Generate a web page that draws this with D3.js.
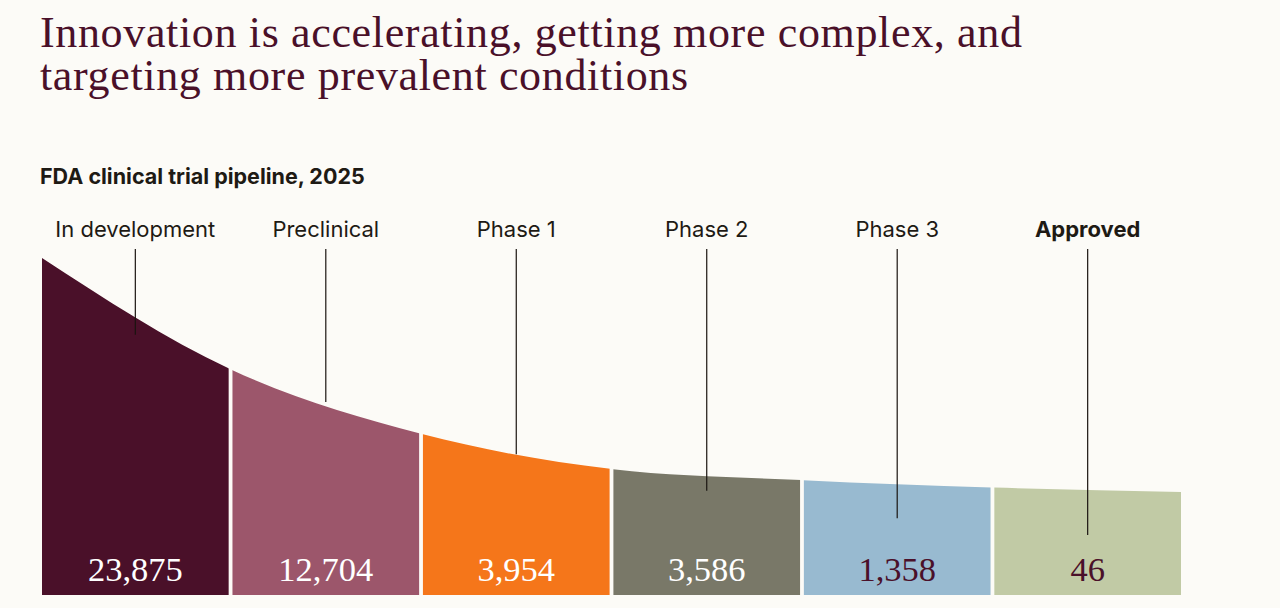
<!DOCTYPE html>
<html>
<head>
<meta charset="utf-8">
<script src="https://cdn.jsdelivr.net/npm/d3@7"></script>
<style>
  body { margin: 0; background: #fcfbf7; }
  svg { display: block; }
</style>
</head>
<body>
<svg width="1280" height="608"></svg>
<script>
// stages of the pipeline
var stages = ["In development", "Preclinical", "Phase 1", "Phase 2", "Phase 3", "Approved"];
var counts = [23875, 12704, 3954, 3586, 1358, 46];
var colors = ["#4a1029", "#9c566b", "#f5761a", "#797868", "#98bad0", "#c1caa5"];
var valueColors = ["#ffffff", "#ffffff", "#ffffff", "#ffffff", "#4a1029", "#4a1029"];
// relative height of the funnel at each stage boundary (0-100)
var funnelHeight = [100, 66.8, 47.8, 37.4, 34.1, 31.9, 30.6];
// where the leader lines stop, same units
var leaderEnds = [77.2, 57.3, 41.8, 30.9, 22.8, 17.8];

var svg = d3.select("svg");
var baseY = 595, peakY = 258;

var xScale = d3.scaleBand().domain(stages).range([42, 1181]).paddingInner(0.02);
var xEdge = d3.scaleLinear().domain([0, stages.length]).range([42, 1181]);
var yScale = d3.scaleLinear().domain([0, 100]).range([baseY, peakY]);

svg.append("rect").attr("width", 1280).attr("height", 608).attr("fill", "#fcfbf7");

// title
var title = svg.append("text")
    .attr("x", 40)
    .attr("fill", "#4a1029")
    .style("font-family", "'Liberation Serif', 'DejaVu Serif', serif")
    .style("font-size", "44px")
    .style("letter-spacing", "0.65px");
title.append("tspan").attr("x", 40).attr("y", 47).text("Innovation is accelerating, getting more complex, and");
title.append("tspan").attr("x", 40).attr("y", 90).text("targeting more prevalent conditions");

svg.append("text")
    .attr("x", 40)
    .attr("y", 184)
    .attr("fill", "#1e1a14")
    .style("font-family", "Inter, 'Noto Sans', sans-serif")
    .style("font-weight", "700")
    .style("font-size", "21.5px")
    .text("FDA clinical trial pipeline, 2025");

// funnel shape
var area = d3.area()
    .x(function(d, i) { return xEdge(i); })
    .y0(baseY)
    .y1(function(d) { return yScale(d); })
    .curve(d3.curveMonotoneX);

var defs = svg.append("defs");
stages.forEach(function(s, i) {
    defs.append("clipPath")
        .attr("id", "clip" + i)
        .append("rect")
        .attr("x", xScale(s))
        .attr("y", 0)
        .attr("width", xScale.bandwidth())
        .attr("height", 608);
});

svg.selectAll(".segment")
    .data(stages)
    .enter().append("path")
    .attr("class", "segment")
    .attr("d", area(funnelHeight))
    .attr("clip-path", function(d, i) { return "url(#clip" + i + ")"; })
    .attr("fill", function(d, i) { return colors[i]; });

// leader lines
svg.selectAll(".leader")
    .data(stages)
    .enter().append("line")
    .attr("class", "leader")
    .attr("x1", function(d) { return xScale(d) + xScale.bandwidth() / 2; })
    .attr("x2", function(d) { return xScale(d) + xScale.bandwidth() / 2; })
    .attr("y1", 249)
    .attr("y2", function(d, i) { return yScale(leaderEnds[i]); })
    .attr("stroke", "#1a1410")
    .attr("stroke-width", 1.2);

// stage labels
svg.selectAll(".stage")
    .data(stages)
    .enter().append("text")
    .attr("class", "stage")
    .attr("x", function(d) { return xScale(d) + xScale.bandwidth() / 2; })
    .attr("y", 237)
    .attr("text-anchor", "middle")
    .attr("fill", "#1e1a14")
    .style("font-family", "Inter, 'Noto Sans', sans-serif")
    .style("font-size", "22px")
    .style("font-weight", function(d) { return d == "Approved" ? "700" : "400"; })
    .text(function(d) { return d; });

// values
svg.selectAll(".value")
    .data(stages)
    .enter().append("text")
    .attr("class", "value")
    .attr("x", function(d) { return xScale(d) + xScale.bandwidth() / 2; })
    .attr("y", 581)
    .attr("text-anchor", "middle")
    .attr("fill", function(d, i) { return valueColors[i]; })
    .style("font-family", "'Liberation Serif', 'DejaVu Serif', serif")
    .style("font-size", "34.5px")
    .text(function(d, i) { return d3.format(",")(counts[i]); });
</script>
</body>
</html>
